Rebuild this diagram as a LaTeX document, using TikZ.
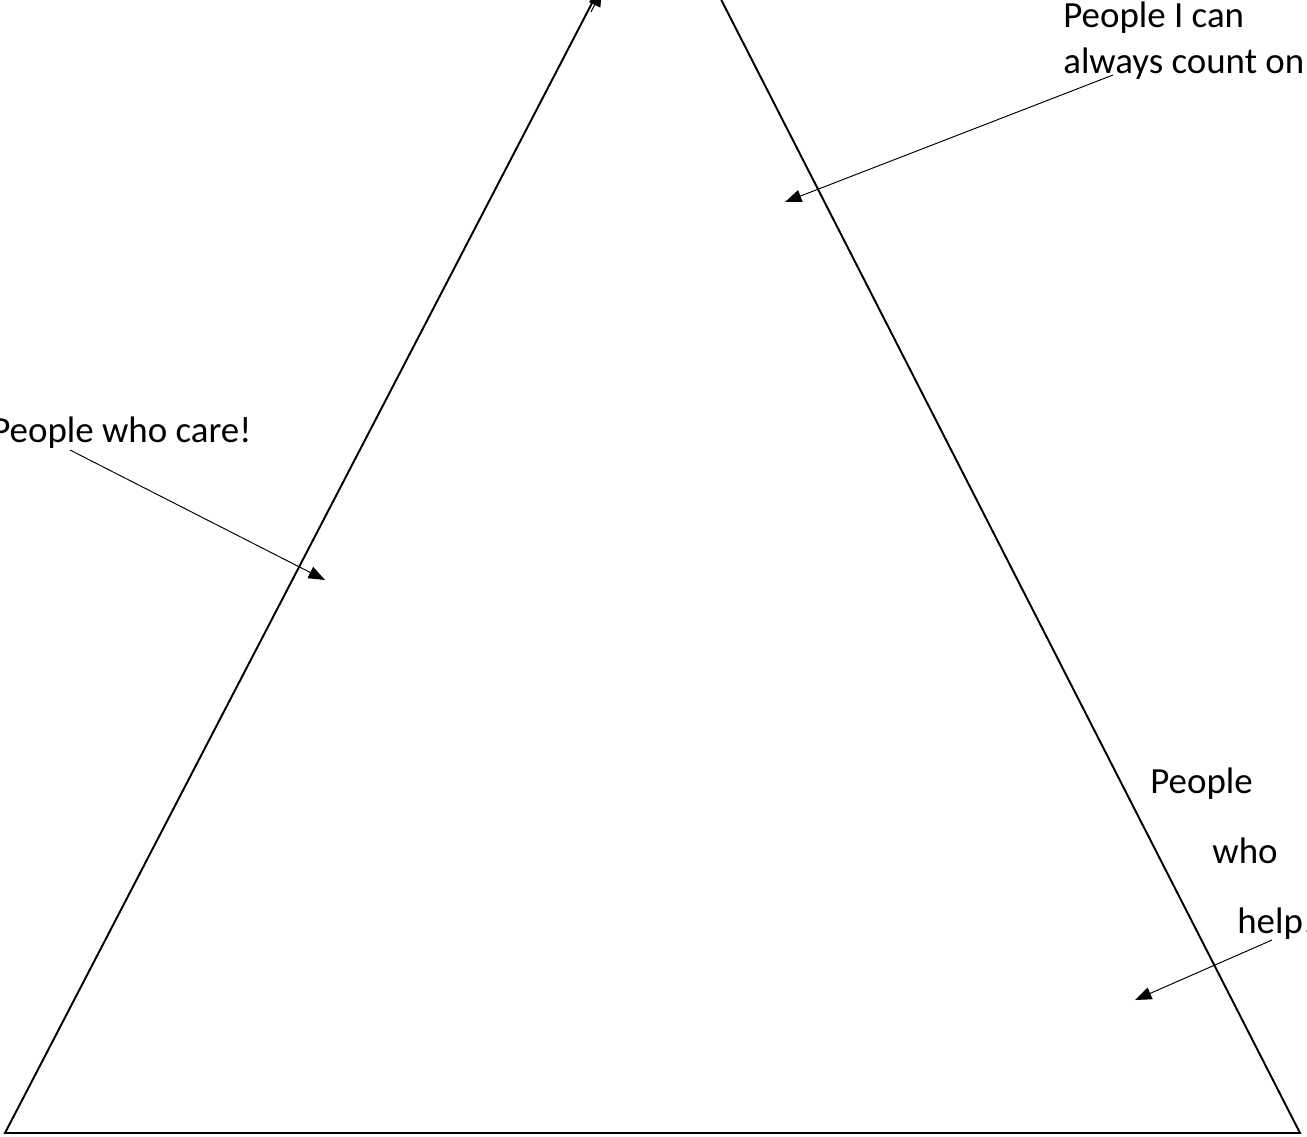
\documentclass[tikz,border=0pt]{standalone}
\usepackage{fontspec}
\setmainfont{Carlito}
\usetikzlibrary{arrows.meta, positioning, calc}

\begin{document}
\begin{tikzpicture}[
			x = 0.02cm, y = -0.02cm,
			side/.style = {line width=1.1pt},
			pointer/.style = {line width=0.55pt, -{Triangle[length=0.33cm, width=0.25cm]}},
			label/.style = {anchor=base west, inner sep=0pt, font=\fontsize{21}{26.2}\selectfont}
			]
			
			% Frame
			\useasboundingbox (0,0) rectangle (1307,1136);
			\clip (0,0) rectangle (1307,1136);
			
			% Define triangle
			\coordinate (apex) at (658,-124);
			\coordinate (left) at (5,1133);
			\coordinate (right) at (1300,1133);
			\draw[side] (left) -- (apex) -- (right) -- cycle;
			
			% Define labels
			\node[label] (ican) at (1063,27) {People I can};
			\node[label] (counton) at (1063,73) {always count on};
			\node[label] (care) at (-9,442) {People who care!};
			\node[label] (people) at (1150,793) {People};
			\node[label] (who) at (1212,863) {who};
			\node[label] (help) at (1237,933) {help!};
			
			% Define arrows
			\coordinate (counton tail) at (1113,75);
			\coordinate (counton tip) at (785,202);
			\coordinate (care tail) at (70,450);
			\coordinate (care tip) at (325,580);
			\coordinate (help tail) at (1272,940);
			\coordinate (help tip) at (1135,1000);
			\coordinate (top tail) at (591,12);
			\coordinate (top tip) at (602,-10);
			\draw[pointer] (counton tail) -- (counton tip);
			\draw[pointer] (care tail) -- (care tip);
			\draw[pointer] (help tail) -- (help tip);
			\draw[pointer] (top tail) -- (top tip);
			
		\end{tikzpicture}
\end{document}
